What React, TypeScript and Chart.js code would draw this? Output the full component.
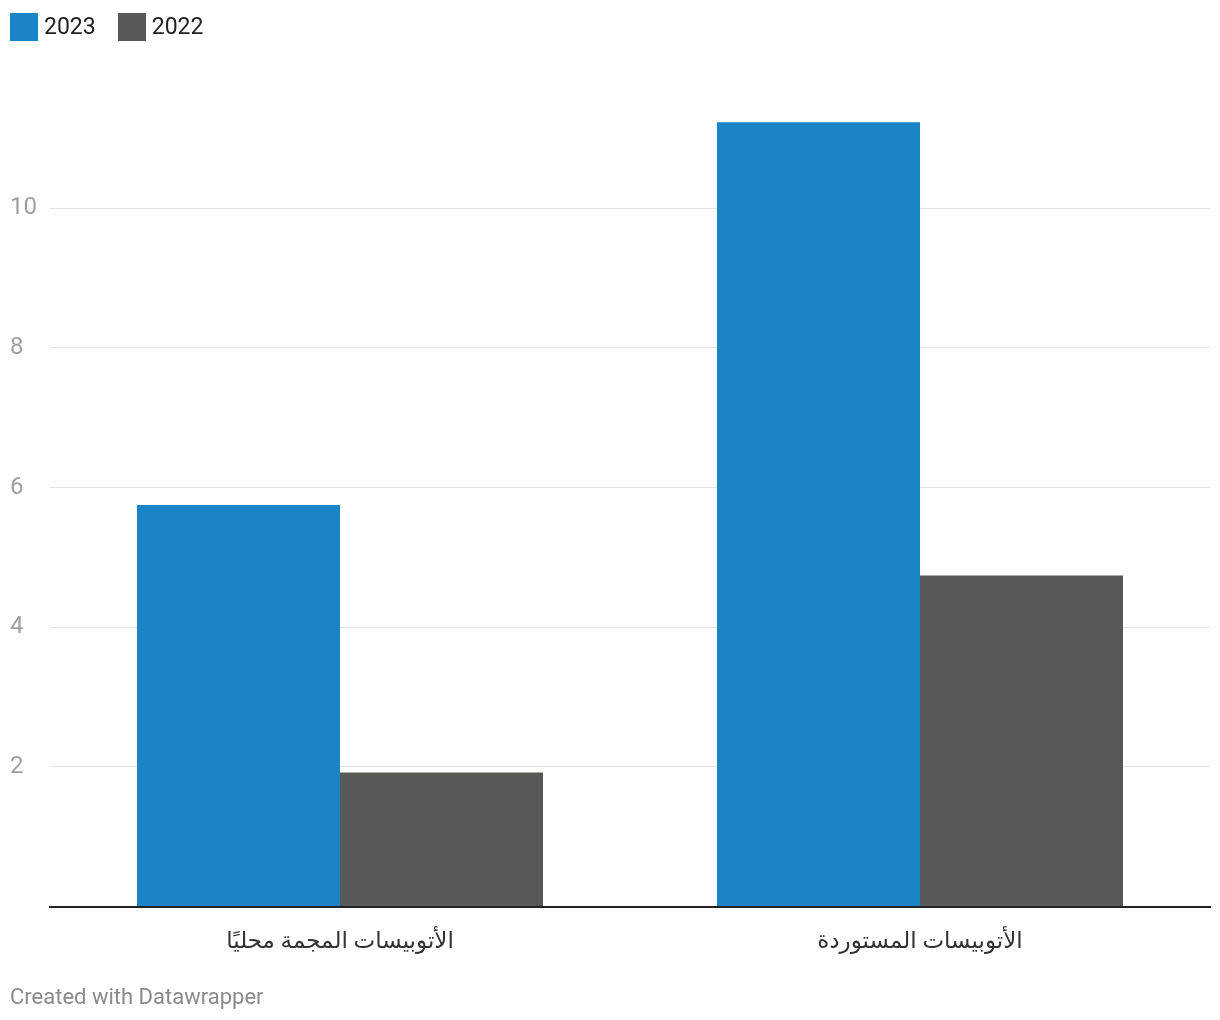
import React, { useEffect, useRef } from "react";
import { Chart, registerables } from "chart.js";

Chart.register(...registerables);

const categories = ["الأتوبيسات المجمة محليًا", "الأتوبيسات المستوردة"];
const seriesNames = ["2023", "2022"];
const values2023 = [5.75, 11.23];
const values2022 = [1.92, 4.74];
const seriesColors = ["#1b84c7", "#585856"];
const yTicks = [2, 4, 6, 8, 10];
const footerText = "Created with Datawrapper";

const FONT = "Roboto, 'DejaVu Sans', sans-serif";

export default function App() {
  const canvasRef = useRef<HTMLCanvasElement | null>(null);

  useEffect(() => {
    document.body.style.margin = "0";
    const canvas = canvasRef.current;
    if (!canvas) return;
    const chart = new Chart(canvas, {
      type: "bar",
      data: {
        labels: categories,
        datasets: [
          {
            label: seriesNames[0],
            data: values2023,
            backgroundColor: seriesColors[0],
            borderWidth: 0,
          },
          {
            label: seriesNames[1],
            data: values2022,
            backgroundColor: seriesColors[1],
            borderWidth: 0,
          },
        ],
      },
      options: {
        responsive: false,
        animation: false,
        devicePixelRatio: 1,
        layout: { padding: { left: 10, right: 10, top: 68.5, bottom: 0 } },
        plugins: {
          legend: { display: false },
          tooltip: { enabled: false },
        },
        datasets: {
          bar: { barPercentage: 1, categoryPercentage: 0.7 },
        },
        scales: {
          x: {
            grid: { display: false, drawTicks: false },
            border: { display: true, color: "#222222", width: 2 },
            ticks: {
              color: "#333333",
              font: { family: FONT, size: 23 },
              padding: 22,
              maxRotation: 0,
            },
            afterFit: (scale: any) => {
              scale.height = 113.5;
            },
          },
          y: {
            min: 0,
            max: 12,
            afterBuildTicks: (scale: any) => {
              scale.ticks = [0, ...yTicks, 12].map((v) => ({ value: v }));
            },
            grid: {
              drawTicks: false,
              color: (ctx: any) =>
                ctx.tick && yTicks.includes(ctx.tick.value) ? "#e4e4e4" : "rgba(0,0,0,0)",
              lineWidth: 1,
            },
            border: { display: false },
            ticks: {
              color: "#a0a0a0",
              font: { family: FONT, size: 24 },
              crossAlign: "far",
              padding: 0,
              callback: (v: any) => (yTicks.includes(Number(v)) ? String(v) : ""),
            },
            afterFit: (scale: any) => {
              scale.width = 40;
            },
          },
        },
      },
    });
    return () => chart.destroy();
  }, []);

  return (
    <div style={{ position: "fixed", left: 0, top: 0, width: 1220, height: 1020, background: "#fff" }}>
      <canvas ref={canvasRef} width={1220} height={1020} style={{ position: "absolute", left: 0, top: 0, width: 1220, height: 1020 }} />
      <div style={{ position: "absolute", left: 10, top: 13, display: "flex", alignItems: "center", fontFamily: FONT, fontSize: 23, color: "#222" }}>
        {seriesNames.map((name, i) => (
          <div key={name} style={{ display: "flex", alignItems: "center", marginRight: 22 }}>
            <span style={{ display: "inline-block", width: 28, height: 28, background: seriesColors[i], marginRight: 6 }} />
            <span style={{ lineHeight: "28px" }}>{name}</span>
          </div>
        ))}
      </div>
      <div style={{ position: "absolute", left: 10, top: 983, fontFamily: FONT, fontSize: 22, color: "#8a8a8a", lineHeight: "28px" }}>
        {footerText}
      </div>
    </div>
  );
}
